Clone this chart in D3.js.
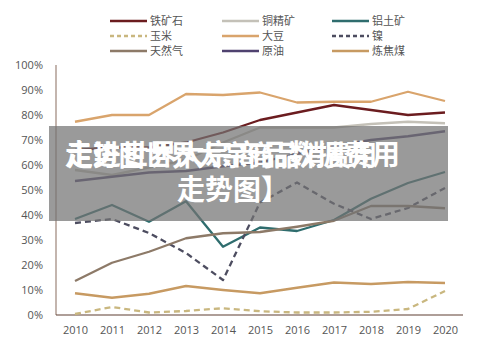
<!DOCTYPE html>
<html><head><meta charset="utf-8">
<script src="https://cdn.jsdelivr.net/npm/d3@7"></script>
<style>body{margin:0;background:#fff;}svg{display:block;font-family:"Noto Sans CJK SC","Noto Sans",sans-serif;}</style>
</head><body><svg id="c" width="500" height="347"></svg>
<script>
const years = [2010,2011,2012,2013,2014,2015,2016,2017,2018,2019,2020];
const yTicks = [0,10,20,30,40,50,60,70,80,90,100];
const ironOre   = [66,67,67,69,73,78,81,84,82,80,81];
const copper    = [58,56,59,62,69,75,75,75,76.4,77.3,76.7];
const bauxite   = [38.4,44,37.3,45.5,27.3,35,33.6,38,46.5,52.8,57.2];
const corn      = [0.4,3.2,1,1.6,2.7,1.5,1,1,1.3,2.4,9.6];
const soybean   = [77.3,80,80,88.4,88,89,85,85.3,85.3,89.3,85.6];
const nickel    = [36.8,38.4,32.8,24.8,14,45,53,44.5,38.4,42.8,50.8];
const naturalGas= [13.6,20.9,25.3,30.7,32.7,33.2,35.3,37.7,43.6,43.6,42.7];
const crudeOil  = [53.6,55.3,57,57.6,59.5,61,64.5,67.5,70,71.5,73.5];
const cokingCoal= [8.7,6.9,8.5,11.6,10,8.7,10.9,13,12.4,13.2,12.8];
const seriesNames = ["铁矿石","铜精矿","铝土矿","玉米","大豆","镍","天然气","原油","炼焦煤"];
const seriesData = [ironOre,copper,bauxite,corn,soybean,nickel,naturalGas,crudeOil,cokingCoal];
const colors = ["#6b1c1f","#c4c1b8","#2f6d6e","#c9b77f","#d9a46c","#4d4d60","#8d7a68","#4f426f","#c79a62"];
const dashed = [false,false,false,true,false,true,false,false,false];
const titleA = "走进世界大宗商品数据费用";
const titleB = "走势图世界大宗商品消费用";
const titleLine2 = "走势图】";

const svg = d3.select("#c");
const x = d3.scaleLinear().domain([2010,2020]).range([75,445]);
const y = d3.scaleLinear().domain([0,100]).range([315,65]);

// axes lines
svg.append("line").attr("x1",56).attr("x2",56).attr("y1",65).attr("y2",315).attr("stroke","#9c8478").attr("stroke-width",1.2);
svg.append("line").attr("x1",56).attr("x2",463).attr("y1",315).attr("y2",315).attr("stroke","#5e3f33").attr("stroke-width",1.2);

const yAxis = d3.axisLeft(y).tickValues(yTicks).tickFormat(d=>d+"%").tickSize(0).tickPadding(0);
const gy = svg.append("g").attr("transform","translate(43,0)").call(yAxis);
gy.select(".domain").remove();
gy.selectAll("text").attr("fill","#555").style("font-size","11px").style("font-family","'Open Sans','Noto Sans',sans-serif");

const xAxis = d3.axisBottom(x).tickValues(years).tickFormat(d3.format("d")).tickSize(0).tickPadding(0);
const gx = svg.append("g").attr("transform","translate(0,326)").call(xAxis);
gx.select(".domain").remove();
gx.selectAll("text").attr("fill","#555").style("font-size","11px").style("font-family","'Open Sans','Noto Sans',sans-serif");

const line = d3.line().x((d,i)=>x(years[i])).y(d=>y(d));
seriesData.forEach((s,k)=>{
  svg.append("path").datum(s).attr("d",line).attr("fill","none")
    .attr("stroke",colors[k]).attr("stroke-width",2.3)
    .attr("stroke-dasharray",dashed[k]?"6,4":null)
    .attr("stroke-linejoin","round");
});

// legend
const legX = [110,222,332], legY = [21,36,51];
seriesNames.forEach((n,k)=>{
  const cx = legX[k%3], cy = legY[Math.floor(k/3)];
  svg.append("line").attr("x1",cx).attr("x2",cx+37).attr("y1",cy).attr("y2",cy)
    .attr("stroke",colors[k]).attr("stroke-width",2.3).attr("stroke-dasharray",dashed[k]?"4,3":null);
  svg.append("text").attr("x",cx+40).attr("y",cy+4).text(n).attr("fill","#555").style("font-size","11px");
});

// overlay box
svg.append("rect").attr("x",49).attr("y",126).attr("width",399).attr("height",95).attr("fill","rgba(115,115,115,0.72)");
const tg = svg.append("g").attr("fill","#fff").style("font-weight","bold").style("font-size","28px");
tg.append("text").attr("x",65).attr("y",165).attr("textLength",335).attr("lengthAdjust","spacingAndGlyphs").text(titleA);
tg.append("text").attr("x",67).attr("y",166).attr("textLength",310).attr("lengthAdjust","spacingAndGlyphs").text(titleB);
tg.append("text").attr("x",177).attr("y",200).attr("textLength",112).attr("lengthAdjust","spacingAndGlyphs").text(titleLine2);
</script></body></html>
